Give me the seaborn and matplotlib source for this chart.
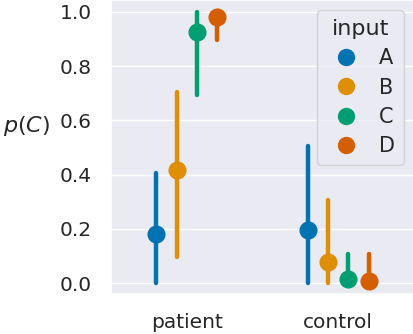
import pandas as pd
import seaborn as sns
import matplotlib.pyplot as plt

# values: estimate with lower/upper interval ends
groups = ["patient", "control"]
inputs = ["A", "B", "C", "D"]
patient_mid = [0.183, 0.417, 0.925, 0.983]
patient_lo = [0.0, 0.097, 0.694, 0.897]
patient_hi = [0.405, 0.705, 1.0, 1.0]
control_mid = [0.196, 0.079, 0.014, 0.007]
control_lo = [0.0, 0.0, 0.0, 0.0]
control_hi = [0.505, 0.306, 0.107, 0.107]

rows = []
for grp, mids, los, his in [("patient", patient_mid, patient_lo, patient_hi),
                            ("control", control_mid, control_lo, control_hi)]:
    for inp, m, lo, hi in zip(inputs, mids, los, his):
        for v in (lo, m, hi):
            rows.append({"group": grp, "input": inp, "p": v})
df = pd.DataFrame(rows)

sns.set_theme(style="darkgrid", palette="colorblind")
plt.rcParams["font.family"] = ["DejaVu Sans"]

fig = plt.figure(figsize=(4.14, 3.34), dpi=100)
ax = fig.add_axes([111 / 414, 40 / 334, 303 / 414, 294 / 334])

sns.pointplot(data=df, x="group", y="p", hue="input", order=groups,
              hue_order=inputs, estimator="median",
              errorbar=lambda x: (x.min(), x.max()),
              dodge=0.4, linestyle="none", markers="o",
              markersize=11, err_kws={"linewidth": 3.2}, ax=ax)

ax.set_ylim(-0.04, 1.044)
ax.set_xlim(-0.5, 1.5)
ax.set_yticks([0.0, 0.2, 0.4, 0.6, 0.8, 1.0])
ax.set_yticklabels(["0.0", "0.2", "0.4", "0.6", "0.8", "1.0"])
ax.tick_params(labelsize=14.5, pad=8)
ax.set_xlabel("")
ax.set_ylabel("$p(C)$", rotation=0, fontsize=16)
ax.yaxis.set_label_coords(-0.28, 0.53)

leg = ax.legend(title="input", loc="upper right", fontsize=15,
                title_fontsize=16, markerscale=0.95, handletextpad=0.6,
                labelspacing=0.45, borderaxespad=0.5)

fig.savefig("out.png", dpi=100)
